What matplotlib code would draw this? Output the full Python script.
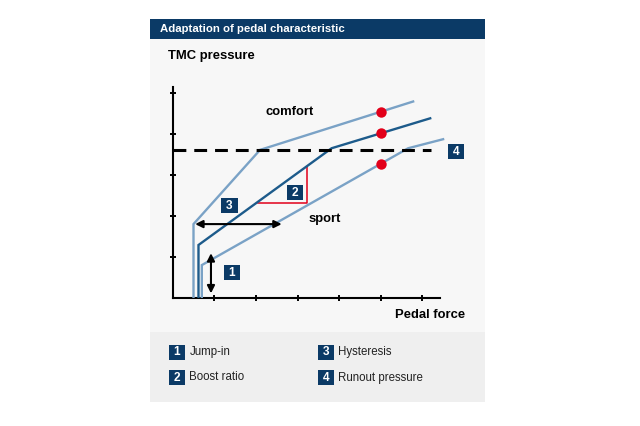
import matplotlib
matplotlib.use("Agg")
import matplotlib.pyplot as plt
from matplotlib.patches import Rectangle

plt.rcParams['font.family'] = ['Liberation Sans', 'DejaVu Sans']

# ---- data ----
comfort_x = [0.50, 0.50, 2.10, 5.78]
comfort_y = [0.0, 1.81, 3.62, 4.80]
middle_x = [0.62, 0.62, 3.82, 6.19]
middle_y = [0.0, 1.30, 3.66, 4.39]
lower_x = [0.70, 0.70, 5.66, 6.50]
lower_y = [0.0, 0.81, 3.66, 3.88]
dot_x = [5.0, 5.0, 5.0]
dot_y = [4.55, 4.02, 3.27]
runout_y = 3.62
runout_x = [0.0, 6.22]
tri_x = [2.06, 3.24, 3.24]
tri_y = [2.33, 2.33, 3.20]
x_ticks = [1, 2, 3, 4, 5, 6]
y_ticks = [1, 2, 3, 4, 5]
hyst_arrow_x = [0.54, 2.62]
hyst_arrow_y = 1.81
jump_arrow_x = 0.92
jump_arrow_y = [0.12, 1.10]
marker_labels = ['1', '2', '3', '4']
marker_x = [1.42, 2.94, 1.36, 6.81]
marker_y = [0.62, 2.57, 2.26, 3.58]
legend_labels = ['Jump-in', 'Boost ratio', 'Hysteresis', 'Runout pressure']

DARK = '#0b3a66'
LIGHT = '#7aa2c6'
MID = '#1d5b8b'
RED = '#e2001a'

W, H = 640, 426
fig = plt.figure(figsize=(6.4, 4.26), dpi=100)
fig.patch.set_facecolor('white')

def fx(px):
    return px / W

def fy(py):
    return 1 - py / H

def rect(px0, py0, px1, py1, color, z=-2):
    fig.patches.append(Rectangle((fx(px0), fy(py1)), fx(px1) - fx(px0), fy(py0) - fy(py1),
                                 transform=fig.transFigure, facecolor=color,
                                 edgecolor='none', zorder=z))

def num_box(cx, cy, lab, bw=16.5, bh=15):
    rect(cx - bw / 2, cy - bh / 2, cx + bw / 2, cy + bh / 2, DARK, z=5)
    fig.text(fx(cx), fy(cy + 0.3), lab, color='white', fontsize=8.6, fontweight='bold',
             ha='center', va='center', zorder=6)

# background panels
rect(150, 39, 485, 332, '#f7f7f7')
rect(150, 332, 485, 402, '#efefef')
rect(150, 19, 485, 39, DARK)
fig.text(fx(160), fy(29.5), 'Adaptation of pedal characteristic', color='white',
         fontsize=8.2, fontweight='bold', va='center', ha='left')
fig.text(fx(168), fy(56.5), 'TMC pressure', color='black', fontsize=9.4,
         fontweight='bold', va='center', ha='left')

# axes: origin at (172.7, 298.3) px, 41.6 px per x unit, 41 px per y unit
x0, y0, ux, uy = 172.7, 298.3, 41.6, 41.0
xmax, ymax = 7.5, 5.3
ax = fig.add_axes([fx(x0), fy(y0), ux * xmax / W, uy * ymax / H])
ax.set_zorder(1)
ax.set_xlim(0, xmax)
ax.set_ylim(0, ymax)
ax.patch.set_alpha(0)
for s in ['top', 'right']:
    ax.spines[s].set_visible(False)
ax.spines['left'].set_bounds(0, 5.15)
ax.spines['bottom'].set_bounds(0, 6.43)
for s in ['left', 'bottom']:
    ax.spines[s].set_linewidth(1.5)
ax.set_xticks(x_ticks)
ax.set_yticks(y_ticks)
ax.set_xticklabels([])
ax.set_yticklabels([])
ax.tick_params(direction='inout', length=5, width=1.4, color='black')

ax.plot(comfort_x, comfort_y, color=LIGHT, lw=1.7, solid_joinstyle='miter', zorder=3)
ax.plot(middle_x, middle_y, color=MID, lw=1.7, solid_joinstyle='miter', zorder=3)
ax.plot(lower_x, lower_y, color=LIGHT, lw=1.7, solid_joinstyle='miter', zorder=3)
ax.plot(runout_x, [runout_y, runout_y], color='black', lw=2.2,
        linestyle=(0, (4.2, 2.6)), zorder=4)
ax.plot(tri_x, tri_y, color=RED, lw=1.1, zorder=2)
ax.plot(dot_x, dot_y, 'o', color=RED, markersize=7.5, zorder=5, markeredgewidth=0)

ax.annotate('', xy=(hyst_arrow_x[1], hyst_arrow_y), xytext=(hyst_arrow_x[0], hyst_arrow_y),
            arrowprops=dict(arrowstyle='<|-|>', color='black', lw=1.5,
                            shrinkA=0, shrinkB=0, mutation_scale=11), zorder=6)
ax.annotate('', xy=(jump_arrow_x, jump_arrow_y[1]), xytext=(jump_arrow_x, jump_arrow_y[0]),
            arrowprops=dict(arrowstyle='<|-|>', color='black', lw=1.5,
                            shrinkA=0, shrinkB=0, mutation_scale=11), zorder=6)

# numbered markers inside the chart (data -> pixel via the axes mapping)
for lab, mx, my in zip(marker_labels, marker_x, marker_y):
    num_box(x0 + ux * mx, y0 - uy * my, lab)

ax.text(2.82, 4.55, 'comfort', fontsize=9.4, fontweight='bold', ha='center', va='center')
ax.text(3.66, 1.93, 'sport', fontsize=9.4, fontweight='bold', ha='center', va='center')
fig.text(fx(465), fy(315), 'Pedal force', fontsize=9.4, fontweight='bold', ha='right', va='center')

# legend
leg_box_x = [177, 177, 326, 326]
leg_y = [352, 377.5, 352, 377.5]
for lab, txt, bx, by in zip(marker_labels, legend_labels, leg_box_x, leg_y):
    num_box(bx, by, lab, bw=16, bh=15)
    fig.text(fx(bx + 12.3), fy(by), txt, color='#222222', fontsize=8.3, ha='left', va='center')

fig.savefig('out.png', dpi=100)
